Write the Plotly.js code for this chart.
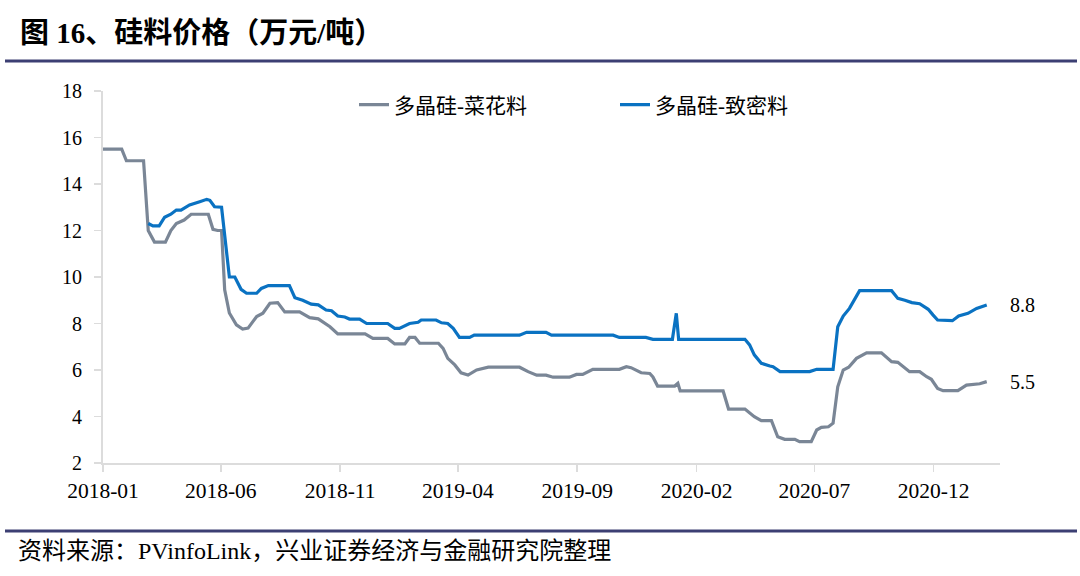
<!DOCTYPE html>
<html>
<head>
<meta charset="utf-8">
<script src="https://cdn.plot.ly/plotly-3.0.1.min.js"></script>
<style>html,body{margin:0;padding:0;background:#fff;}#chart{width:1080px;height:576px;}</style>
</head>
<body>
<div id="chart"></div>
<script>
// 多晶硅-菜花料 (万元/吨)
const flakeDates = ["2018-01-01","2018-01-25","2018-01-31","2018-02-22","2018-02-28","2018-03-08","2018-03-22","2018-03-29","2018-04-05","2018-04-15","2018-04-24","2018-05-16","2018-05-22","2018-05-28","2018-06-02","2018-06-06","2018-06-12","2018-06-21","2018-06-29","2018-07-06","2018-07-17","2018-07-25","2018-08-03","2018-08-13","2018-08-22","2018-09-10","2018-09-23","2018-10-04","2018-10-19","2018-10-29","2018-12-03","2018-12-13","2019-01-01","2019-01-10","2019-01-23","2019-01-29","2019-02-05","2019-02-11","2019-03-07","2019-03-13","2019-03-19","2019-03-28","2019-04-05","2019-04-14","2019-04-25","2019-05-03","2019-05-10","2019-06-19","2019-06-30","2019-07-11","2019-07-23","2019-08-01","2019-08-22","2019-08-31","2019-09-08","2019-09-21","2019-10-25","2019-11-03","2019-11-09","2019-11-22","2019-12-03","2019-12-07","2019-12-13","2020-01-04","2020-01-08","2020-01-11","2020-03-06","2020-03-13","2020-04-03","2020-04-15","2020-04-24","2020-05-07","2020-05-15","2020-05-24","2020-06-06","2020-06-12","2020-06-27","2020-07-04","2020-07-10","2020-07-19","2020-07-25","2020-07-31","2020-08-07","2020-08-14","2020-08-24","2020-09-06","2020-09-25","2020-10-08","2020-10-16","2020-10-31","2020-11-13","2020-11-22","2020-11-28","2020-12-06","2020-12-13","2021-01-01","2021-01-12","2021-01-29","2021-02-07"];
const flakeValues = [15.5,15.5,15.0,15.0,12.0,11.5,11.5,12.0,12.3,12.45,12.7,12.7,12.05,12.0,12.0,9.45,8.45,7.94,7.76,7.8,8.3,8.44,8.87,8.9,8.5,8.5,8.25,8.2,7.86,7.55,7.55,7.36,7.36,7.12,7.12,7.4,7.4,7.15,7.15,6.93,6.5,6.22,5.88,5.78,6.0,6.07,6.12,6.12,5.93,5.78,5.78,5.69,5.69,5.81,5.81,6.03,6.03,6.14,6.1,5.88,5.85,5.7,5.31,5.31,5.43,5.1,5.1,4.32,4.32,3.99,3.82,3.82,3.13,3.02,3.02,2.92,2.92,3.42,3.53,3.56,3.71,5.28,6.0,6.12,6.5,6.74,6.74,6.36,6.33,5.93,5.93,5.71,5.6,5.21,5.11,5.11,5.35,5.41,5.5];

// 多晶硅-致密料 (万元/吨)
const denseDates = ["2018-02-28","2018-03-06","2018-03-14","2018-03-21","2018-03-29","2018-04-05","2018-04-11","2018-04-22","2018-05-05","2018-05-14","2018-05-18","2018-05-24","2018-06-02","2018-06-08","2018-06-12","2018-06-19","2018-06-27","2018-07-04","2018-07-17","2018-07-23","2018-08-01","2018-08-28","2018-09-04","2018-09-14","2018-09-25","2018-10-04","2018-10-14","2018-10-21","2018-10-29","2018-11-07","2018-11-13","2018-11-26","2018-12-05","2019-01-01","2019-01-10","2019-01-16","2019-01-29","2019-02-09","2019-02-13","2019-03-04","2019-03-11","2019-03-19","2019-03-26","2019-04-03","2019-04-16","2019-04-22","2019-06-19","2019-06-28","2019-07-23","2019-07-30","2019-10-17","2019-10-25","2019-11-28","2019-12-07","2020-01-01","2020-01-06","2020-01-09","2020-04-03","2020-04-09","2020-04-15","2020-04-24","2020-05-05","2020-05-09","2020-05-18","2020-06-25","2020-07-04","2020-07-25","2020-07-31","2020-08-07","2020-08-15","2020-08-28","2020-10-08","2020-10-16","2020-10-25","2020-11-03","2020-11-13","2020-11-24","2020-11-30","2020-12-06","2020-12-25","2021-01-02","2021-01-14","2021-01-25","2021-02-07"];
const denseValues = [12.3,12.2,12.2,12.57,12.7,12.88,12.88,13.1,13.24,13.34,13.3,13.02,13.0,11.0,10.0,10.0,9.47,9.3,9.3,9.51,9.63,9.63,9.11,9.0,8.83,8.8,8.58,8.55,8.32,8.28,8.19,8.19,8.0,8.0,7.79,7.79,8.0,8.05,8.15,8.15,8.03,8.0,7.79,7.4,7.4,7.5,7.5,7.62,7.62,7.5,7.5,7.4,7.4,7.32,7.32,8.44,7.32,7.32,7.08,6.65,6.29,6.17,6.14,5.93,5.93,6.03,6.03,7.86,8.32,8.65,9.41,9.41,9.08,9.0,8.9,8.85,8.61,8.37,8.15,8.12,8.32,8.44,8.65,8.8];

const seriesNames = ["多晶硅-菜花料","多晶硅-致密料"];
const tickVals = ["2018-01-01","2018-06-01","2018-11-01","2019-04-01","2019-09-01","2020-02-01","2020-07-01","2020-12-01"];
const tickText = ["2018-01","2018-06","2018-11","2019-04","2019-09","2020-02","2020-07","2020-12"];
const endLabels = ["8.8","5.5"];

const serif = "'Liberation Serif', 'Times New Roman', 'Noto Sans CJK SC', serif";
const navy = "#3c3f73";

const traces = [
  {x: flakeDates, y: flakeValues, name: seriesNames[0], type: "scatter", mode: "lines",
   line: {color: "#7a8696", width: 3.2}},
  {x: denseDates, y: denseValues, name: seriesNames[1], type: "scatter", mode: "lines",
   line: {color: "#0a72c2", width: 3.2}}
];

const layout = {
  width: 1080, height: 576,
  margin: {l: 103, r: 80, t: 91, b: 113},
  paper_bgcolor: "#fff", plot_bgcolor: "#fff",
  showlegend: true,
  title: {text: "<b>图 16、硅料价格（万元/吨）</b>", x: 20/1080, xref: "container", xanchor: "left",
          y: 1 - 33/576, yref: "container", yanchor: "middle",
          font: {family: serif, size: 29, color: "#000"}},
  xaxis: {type: "date", range: ["2018-01-01", "2021-02-24"],
          tickvals: tickVals, ticktext: tickText,
          showgrid: false, zeroline: false,
          showline: true, linecolor: "#dcdcdc", linewidth: 2,
          ticks: "outside", ticklen: 7, tickcolor: "#dcdcdc", tickwidth: 1.5,
          ticklabelstandoff: 0,
          tickfont: {family: serif, size: 21.5, color: "#000"}, fixedrange: true},
  yaxis: {range: [2, 18], dtick: 2, tick0: 2,
          showgrid: false, zeroline: false,
          showline: true, linecolor: "#dcdcdc", linewidth: 2,
          ticks: "outside", ticklen: 7, tickcolor: "#dcdcdc", tickwidth: 1.5,
          ticklabelstandoff: 8,
          tickfont: {family: serif, size: 20, color: "#000"}, fixedrange: true},
  legend: {orientation: "h", x: (354-103)/897, xanchor: "left", y: (463-105)/372, yanchor: "middle",
           font: {family: serif, size: 21, color: "#000"}, bgcolor: "rgba(0,0,0,0)",
           entrywidth: 216, entrywidthmode: "pixels", traceorder: "normal"},
  annotations: [
    {xref: "paper", yref: "y", x: (1008-103)/897, y: denseValues[denseValues.length-1], text: endLabels[0],
     showarrow: false, xanchor: "left", yanchor: "middle", font: {family: serif, size: 20, color: "#000"}},
    {xref: "paper", yref: "y", x: (1008-103)/897, y: flakeValues[flakeValues.length-1], text: endLabels[1],
     showarrow: false, xanchor: "left", yanchor: "middle", font: {family: serif, size: 20, color: "#000"}},
    {xref: "paper", yref: "paper", x: (16-103)/897, y: (463-551)/372, xanchor: "left", yanchor: "middle",
     text: "资料来源：PVinfoLink，兴业证券经济与金融研究院整理", showarrow: false,
     font: {family: serif, size: 24, color: "#000"}}
  ],
  shapes: [
    {type: "line", xref: "paper", yref: "paper", x0: (5-103)/897, x1: (1077-103)/897,
     y0: (463-61)/372, y1: (463-61)/372, line: {color: navy, width: 3}},
    {type: "line", xref: "paper", yref: "paper", x0: (5-103)/897, x1: (1077-103)/897,
     y0: (463-531)/372, y1: (463-531)/372, line: {color: navy, width: 3}}
  ]
};

Plotly.newPlot("chart", traces, layout, {displayModeBar: false, staticPlot: true});
</script>
</body>
</html>
